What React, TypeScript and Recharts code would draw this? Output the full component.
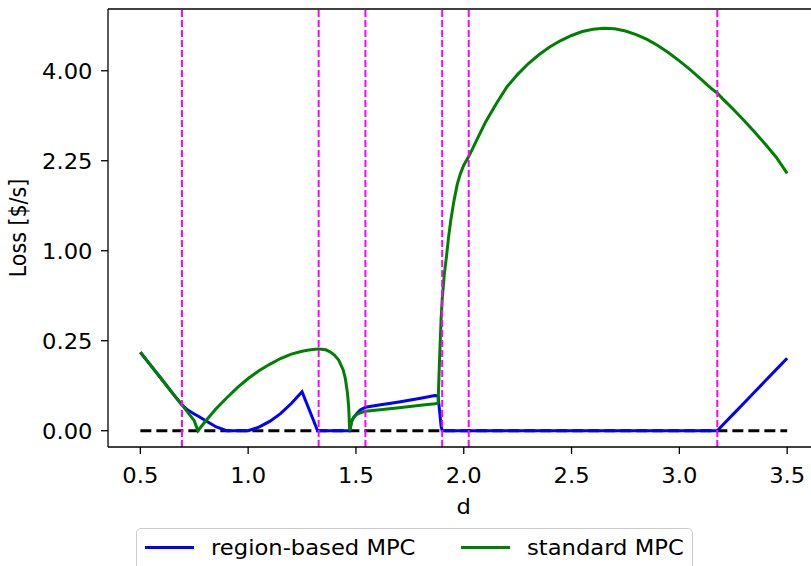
import { LineChart, Line, XAxis, YAxis, ReferenceLine } from "recharts";

const dValues = [
  0.5, 0.55, 0.6, 0.65, 0.693, 0.72, 0.75, 0.767, 0.8, 0.85,
  0.9, 0.95, 1.0, 1.05, 1.1, 1.15, 1.2, 1.25, 1.275, 1.3,
  1.322, 1.327, 1.34, 1.36, 1.38, 1.4, 1.42, 1.44, 1.45, 1.46,
  1.466, 1.471, 1.48, 1.49, 1.5, 1.52, 1.544, 1.6, 1.7, 1.8,
  1.866, 1.881, 1.885, 1.89, 1.895, 1.9, 1.91, 1.92, 1.93, 1.94,
  1.955, 1.97, 1.985, 2.0, 2.023, 2.06, 2.1, 2.15, 2.2, 2.25,
  2.3, 2.35, 2.4, 2.45, 2.5, 2.55, 2.6, 2.65, 2.7, 2.75,
  2.8, 2.85, 2.9, 2.95, 3.0, 3.05, 3.1, 3.15, 3.176, 3.2,
  3.25, 3.3, 3.35, 3.4, 3.45, 3.5,
];

const regionLoss = [
  0.19, 0.13, 0.081, 0.043, 0.0205, 0.0132, 0.0087, 0.0066, 0.0034, 0.0005,
  0, 0, 0, 0.0004, 0.0027, 0.009, 0.0228, 0.047, 0.0201, 0.0044,
  0, 0, 0, 0, 0, 0, 0, 0, 0, 0,
  0, 0, 0.003, 0.0056, 0.0081, 0.0132, 0.0169, 0.0199, 0.0256, 0.0324,
  0.038, 0.037, 0.0207, 0.0071, 0.0006, 0, 0, 0, 0, 0,
  0, 0, 0, 0, 0, 0, 0, 0, 0, 0,
  0, 0, 0, 0, 0, 0, 0, 0, 0, 0,
  0, 0, 0, 0, 0, 0, 0, 0, 0, 0.0009,
  0.0085, 0.0238, 0.0468, 0.0776, 0.116, 0.162,
];

const standardLoss = [
  0.19, 0.13, 0.081, 0.043, 0.0205, 0.0104, 0.0031, 0, 0.0025, 0.0146,
  0.033, 0.057, 0.084, 0.111, 0.136, 0.161, 0.181, 0.195, 0.2, 0.204,
  0.206, 0.206, 0.205, 0.202, 0.192, 0.177, 0.154, 0.116, 0.087, 0.046,
  0.0196, 0, 0.0025, 0.0056, 0.0077, 0.01, 0.0117, 0.0132, 0.0164, 0.02,
  0.0225, 0.0235, 0.09, 0.22, 0.384, 0.533, 0.757, 0.941, 1.166, 1.369,
  1.638, 1.877, 2.045, 2.176, 2.32, 2.608, 2.931, 3.294, 3.648, 3.92,
  4.162, 4.368, 4.55, 4.7, 4.822, 4.92, 4.977, 5.0, 4.986, 4.933,
  4.844, 4.726, 4.58, 4.41, 4.223, 4.024, 3.818, 3.61, 3.519, 3.404,
  3.19, 2.972, 2.749, 2.528, 2.304, 2.045,
];

const switchPoints = [0.693, 1.327, 1.544, 1.9, 2.023, 3.176];
const xTicks = [0.5, 1.0, 1.5, 2.0, 2.5, 3.0, 3.5];
const yTicks = [0, 0.25, 1, 2.25, 4];

const data = dValues.map((d, i) => ({
  d,
  region: regionLoss[i],
  standard: standardLoss[i],
}));

const FONT = "DejaVu Sans";
const FS = 20.6;
const STRETCH = 1.1; // reference text is a bit wide
const Y_MAX = 5.49;

function XTick({ x, y, payload }: any) {
  return (
    <text
      transform={`translate(${x},${y + 27}) scale(${STRETCH},1)`}
      textAnchor="middle"
      fontFamily={FONT}
      fontSize={FS}
      fill="#000"
    >
      {payload.value.toFixed(1)}
    </text>
  );
}

function YTick({ x, y, payload }: any) {
  return (
    <text
      transform={`translate(${x - 6.5},${y + 8.5}) scale(${STRETCH},1)`}
      textAnchor="end"
      fontFamily={FONT}
      fontSize={FS}
      fill="#000"
    >
      {payload.value.toFixed(2)}
    </text>
  );
}

const legendText = {
  position: "absolute" as const,
  top: 5,
  whiteSpace: "nowrap" as const,
  lineHeight: "28px",
  transform: `scaleX(${STRETCH})`,
  transformOrigin: "left center",
};

export default function App() {
  return (
    <div
      style={{
        position: "fixed",
        left: 0,
        top: 0,
        width: 811,
        height: 566,
        overflow: "hidden",
        background: "#fff",
      }}
    >
      <LineChart
        width={830}
        height={566}
        data={data}
        margin={{ top: 9, right: 10.5, left: 0, bottom: 0 }}
      >
        <XAxis
          dataKey="d"
          type="number"
          domain={[0.35, 3.65]}
          allowDataOverflow
          ticks={xTicks}
          height={119}
          tickSize={7}
          tickMargin={2}
          tick={<XTick />}
          axisLine={{ stroke: "#000", strokeWidth: 1.3 }}
          tickLine={{ stroke: "#000", strokeWidth: 1.3 }}
          label={({ viewBox }: any) => (
            <text
              transform={`translate(${viewBox.x + viewBox.width / 2},${viewBox.y + 67}) scale(${STRETCH},1)`}
              textAnchor="middle"
              fontFamily={FONT}
              fontSize={FS}
            >
              d
            </text>
          )}
        />
        <YAxis
          type="number"
          scale="sqrt"
          domain={[-0.0082, Y_MAX]}
          allowDataOverflow
          ticks={yTicks}
          width={108}
          tickSize={7}
          tickMargin={2}
          tick={<YTick />}
          axisLine={{ stroke: "#000", strokeWidth: 1.3 }}
          tickLine={{ stroke: "#000", strokeWidth: 1.3 }}
          label={({ viewBox }: any) => (
            <text
              transform={`translate(26,${viewBox.y + viewBox.height / 2}) scale(${STRETCH},1) rotate(-90)`}
              textAnchor="middle"
              fontFamily={FONT}
              fontSize={FS}
            >
              Loss [$/s]
            </text>
          )}
        />
        <ReferenceLine y={Y_MAX} stroke="#000" strokeWidth={1.3} />
        <ReferenceLine
          segment={[
            { x: 0.5, y: 0 },
            { x: 3.5, y: 0 },
          ]}
          stroke="#000"
          strokeWidth={3}
          strokeDasharray="11 5"
        />
        <Line
          type="linear"
          dataKey="region"
          stroke="#0000ff"
          strokeWidth={3}
          dot={false}
          isAnimationActive={false}
        />
        <Line
          type="linear"
          dataKey="standard"
          stroke="#008000"
          strokeWidth={3}
          dot={false}
          isAnimationActive={false}
        />
        {switchPoints.map((s) => (
          <ReferenceLine key={s} x={s} stroke="#ff00ff" strokeWidth={2} strokeDasharray="7 3" />
        ))}
      </LineChart>
      <div
        style={{
          position: "absolute",
          left: 136,
          top: 528,
          width: 557,
          height: 60,
          border: "1.3px solid #cccccc",
          borderRadius: 5,
          boxSizing: "border-box",
          fontFamily: FONT,
          fontSize: FS,
          background: "#fff",
        }}
      >
        <div style={{ position: "absolute", left: 8, top: 17, width: 49, height: 3, background: "#0000ff" }} />
        <div style={{ ...legendText, left: 74 }}>region-based MPC</div>
        <div style={{ position: "absolute", left: 324, top: 17, width: 49, height: 3, background: "#008000" }} />
        <div style={{ ...legendText, left: 390 }}>standard MPC</div>
      </div>
    </div>
  );
}
